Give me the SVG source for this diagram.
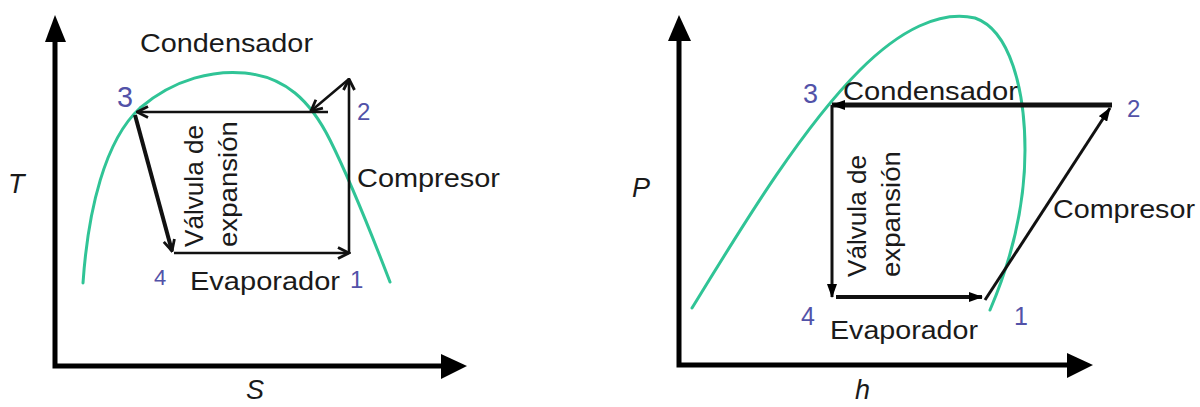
<svg xmlns="http://www.w3.org/2000/svg" width="1200" height="407" viewBox="0 0 1200 407">
<style>
.lbl{font-family:"Liberation Sans",Arial,sans-serif;font-size:26px;fill:#1a1a1a}
.num{font-family:"Liberation Sans",Arial,sans-serif;font-size:24px;fill:#5252a8}
.axl{font-family:"Liberation Sans",Arial,sans-serif;font-size:27px;font-style:italic;fill:#1a1a1a}
.axis{stroke:#000;stroke-width:5;fill:none}
.head{fill:#000}
.sat{stroke:#30c496;stroke-width:3;fill:none;stroke-linecap:round}
.cyc{stroke:#111;fill:none}
</style>
<defs>
<marker id="chev" viewBox="0 0 14 14" markerWidth="14" markerHeight="14" refX="12.5" refY="7" orient="auto" markerUnits="userSpaceOnUse">
<path d="M1.5,1.5 L12.5,7 L1.5,12.5" fill="none" stroke="#111" stroke-width="2.8"/>
</marker>
<marker id="tri" viewBox="0 0 14 10" markerWidth="14" markerHeight="10" refX="13" refY="5" orient="auto" markerUnits="userSpaceOnUse">
<path d="M0,0 L14,5 L0,10 z" fill="#000"/>
</marker>
</defs>

<g id="left-diagram">
<g id="left-axes">
<path class="axis" d="M55,40 L55,366 L445,366"/>
<polygon class="head" points="55,15 45,42 66,42"/>
<polygon class="head" points="467,366 441,354 441,379"/>
<text class="axl" x="8" y="193">T</text>
<text class="axl" x="246" y="399">S</text>
</g>
<g id="left-curve">
<path class="sat" d="M83,283 C88,210 105,140 140,108 C175,78 215,70 245,73 C285,77 310,100 330,140 C350,180 370,230 390,282"/>
</g>
<g id="left-connectors">
<line class="cyc" stroke-width="2.6" x1="328" y1="112" x2="137" y2="112" marker-end="url(#chev)"/>
<line class="cyc" stroke-width="4" x1="135" y1="115" x2="172" y2="251" marker-end="url(#chev)"/>
<line class="cyc" stroke-width="2.6" x1="174" y1="253" x2="349" y2="253" marker-end="url(#chev)"/>
<line class="cyc" stroke-width="2.6" x1="349" y1="253" x2="349" y2="79" marker-end="url(#chev)"/>
<line class="cyc" stroke-width="2.6" x1="349" y1="79" x2="311" y2="111" marker-end="url(#chev)"/>
</g>
<g id="left-labels">
<text class="lbl" x="140" y="52" textLength="173" lengthAdjust="spacingAndGlyphs">Condensador</text>
<text class="lbl" x="357" y="187" textLength="143" lengthAdjust="spacingAndGlyphs">Compresor</text>
<text class="lbl" x="190" y="290" textLength="150" lengthAdjust="spacingAndGlyphs">Evaporador</text>
<text class="lbl" transform="translate(203,247) rotate(-90)" textLength="122" lengthAdjust="spacingAndGlyphs">Válvula de</text>
<text class="lbl" transform="translate(237,247) rotate(-90)" textLength="126" lengthAdjust="spacingAndGlyphs">expansión</text>
<text class="num" x="117" y="107" style="font-size:29px" textLength="16" lengthAdjust="spacingAndGlyphs">3</text>
<text class="num" x="357" y="120">2</text>
<text class="num" x="154" y="285" style="font-size:22px">4</text>
<text class="num" x="350" y="288">1</text>
</g>
</g>

<g id="right-diagram">
<g id="right-axes">
<path class="axis" d="M679,38 L679,365 L1070,365"/>
<polygon class="head" points="679,15 668,41 691,41"/>
<polygon class="head" points="1093,365 1067,353 1067,378"/>
<text class="axl" x="632" y="197">P</text>
<text class="axl" x="855" y="399">h</text>
</g>
<g id="right-curve">
<path class="sat" d="M692,308 C740,230 800,130 860,70 C900,30 940,10 975,18 C1010,30 1025,90 1025,150 C1025,220 1005,275 990,310"/>
</g>
<g id="right-connectors">
<line class="cyc" stroke-width="5" x1="1112" y1="105" x2="832" y2="105" marker-end="url(#tri)"/>
<line class="cyc" stroke-width="3" x1="832" y1="105" x2="832" y2="297" marker-end="url(#tri)"/>
<line class="cyc" stroke-width="4" x1="836" y1="297" x2="982" y2="297" marker-end="url(#tri)"/>
<line class="cyc" stroke-width="3" x1="985" y1="300" x2="1110" y2="108" marker-end="url(#tri)"/>
</g>
<g id="right-labels">
<text class="lbl" x="843" y="100" textLength="175" lengthAdjust="spacingAndGlyphs">Condensador</text>
<text class="lbl" x="1053" y="218" textLength="142" lengthAdjust="spacingAndGlyphs">Compresor</text>
<text class="lbl" x="830" y="339" textLength="148" lengthAdjust="spacingAndGlyphs">Evaporador</text>
<text class="lbl" transform="translate(866,277) rotate(-90)" textLength="122" lengthAdjust="spacingAndGlyphs">Válvula de</text>
<text class="lbl" transform="translate(900,277) rotate(-90)" textLength="126" lengthAdjust="spacingAndGlyphs">expansión</text>
<text class="num" x="803" y="103" style="font-size:27px">3</text>
<text class="num" x="1127" y="117">2</text>
<text class="num" x="801" y="325" style="font-size:25px">4</text>
<text class="num" x="1014" y="325" style="font-size:25px">1</text>
</g>
</g>
</svg>
